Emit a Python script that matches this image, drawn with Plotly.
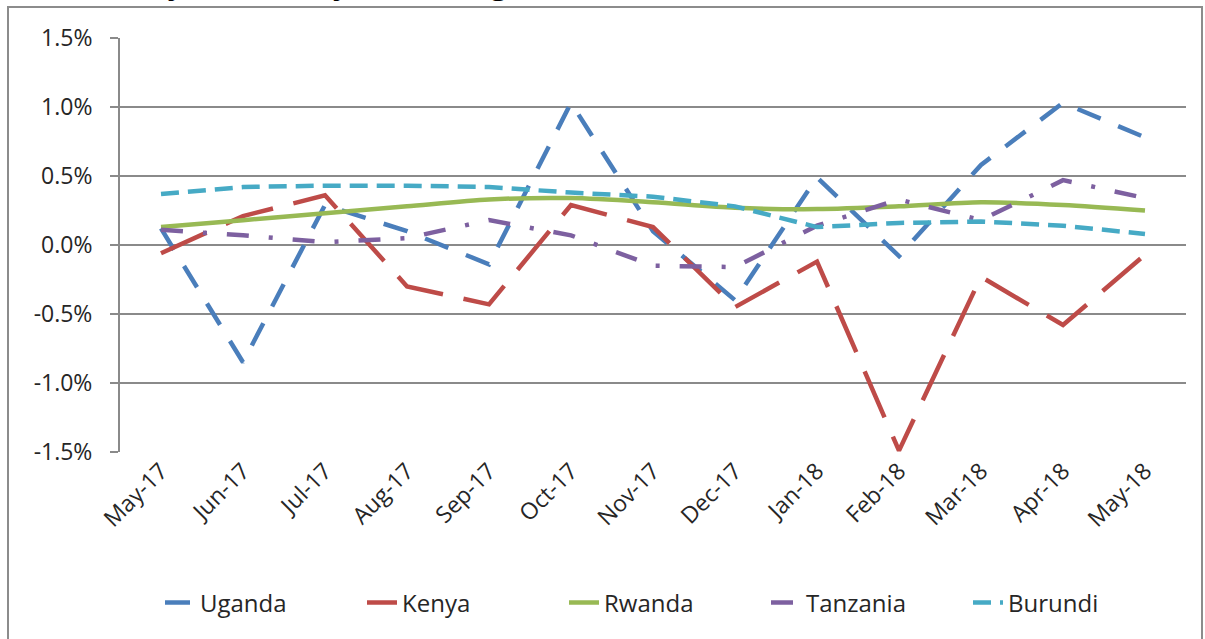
import plotly.graph_objects as go

# ---------------- data ----------------
months = ["May-17", "Jun-17", "Jul-17", "Aug-17", "Sep-17", "Oct-17", "Nov-17",
          "Dec-17", "Jan-18", "Feb-18", "Mar-18", "Apr-18", "May-18"]
uganda = [0.12, -0.85, 0.29, 0.10, -0.14, 1.03, 0.10, -0.40, 0.49, -0.08, 0.58, 1.03, 0.78]
kenya = [-0.06, 0.21, 0.36, -0.30, -0.43, 0.29, 0.13, -0.45, -0.12, -1.49, -0.23, -0.58, -0.07]
rwanda = [0.13, 0.18, 0.23, 0.28, 0.33, 0.34, 0.31, 0.27, 0.26, 0.28, 0.31, 0.29, 0.25]
tanzania = [0.11, 0.07, 0.02, 0.05, 0.18, 0.07, -0.15, -0.16, 0.14, 0.33, 0.18, 0.47, 0.34]
burundi = [0.37, 0.42, 0.43, 0.43, 0.42, 0.38, 0.35, 0.28, 0.13, 0.16, 0.17, 0.14, 0.08]

series_names = ["Uganda", "Kenya", "Rwanda", "Tanzania", "Burundi"]
y_tick_vals = [-1.5, -1.0, -0.5, 0.0, 0.5, 1.0, 1.5]
y_tick_labels = ["-1.5%", "-1.0%", "-0.5%", "0.0%", "0.5%", "1.0%", "1.5%"]
title_text = "(May 2017 - May 2018), Regional"

# ---------------- layout geometry ----------------
W, H = 1205, 639
L, R, T, B = 120, 19, 38, 187
PW, PH = W - L - R, H - T - B


def px_x(px):
    return (px - L) / PW


def px_y(py):
    return (H - B - py) / PH


GRID = "#8a8a8a"
FONT = "Open Sans"
TXT = "#262626"

styles = {
    "Uganda": dict(color="#4A7EBB", dash="25px,19px", shape="linear"),
    "Kenya": dict(color="#BE4B48", dash="50px,21px", shape="linear"),
    "Rwanda": dict(color="#98B954", dash="solid", shape="spline"),
    "Tanzania": dict(color="#7D60A0", dash="22px,20px,4px,20px", shape="linear"),
    "Burundi": dict(color="#46AAC5", dash="18px,9px", shape="linear"),
}
values = {"Uganda": uganda, "Kenya": kenya, "Rwanda": rwanda,
          "Tanzania": tanzania, "Burundi": burundi}

fig = go.Figure()
for name in series_names:
    st = styles[name]
    fig.add_trace(go.Scatter(
        x=months, y=values[name], name=name, mode="lines",
        line=dict(color=st["color"], width=4.5, dash=st["dash"], shape=st["shape"],
                  smoothing=0.8),
    ))

n = len(months)
fig.update_layout(
    width=W, height=H,
    margin=dict(l=L, r=R, t=T, b=B, autoexpand=False),
    paper_bgcolor="white", plot_bgcolor="white",
    font=dict(family=FONT, size=24, color=TXT),
    showlegend=True,
    legend=dict(orientation="h", x=px_x(160), xanchor="left",
                y=px_y(603), yanchor="middle",
                entrywidth=157, entrywidthmode="pixels",
                font=dict(family=FONT, size=24, color=TXT),
                bgcolor="rgba(0,0,0,0)", itemwidth=30),
    xaxis=dict(type="category", categoryorder="array", categoryarray=months,
               range=[-0.5, n - 0.5], tickangle=-45, ticks="", showgrid=False,
               zeroline=False, showline=False, automargin=False,
               tickfont=dict(family=FONT, size=23, color=TXT)),
    xaxis2=dict(overlaying="x", anchor="free", position=0.5, type="linear",
                range=[-0.5, n - 0.5], tickvals=[i + 0.5 for i in range(n - 1)],
                ticks="outside", ticklen=7, tickwidth=2, tickcolor=GRID,
                showticklabels=False, showgrid=False, zeroline=False, showline=False),
    yaxis=dict(range=[-1.5, 1.5], tickvals=y_tick_vals, ticktext=y_tick_labels,
               showgrid=True, gridcolor=GRID, gridwidth=2,
               showline=True, linecolor=GRID, linewidth=2,
               ticks="outside", ticklen=8, tickwidth=2, tickcolor=GRID,
               zeroline=False, ticklabelstandoff=13, automargin=False,
               tickfont=dict(family=FONT, size=23, color=TXT)),
    shapes=[dict(type="rect", xref="paper", yref="paper",
                 x0=px_x(8), x1=px_x(1202), y0=px_y(700), y1=px_y(7),
                 line=dict(color="#8c8c8c", width=2), fillcolor="rgba(0,0,0,0)",
                 layer="below")],
    annotations=[dict(text="<b>" + title_text + "</b>", xref="paper", yref="paper",
                      x=px_x(109), xanchor="left", y=px_y(5), yanchor="bottom",
                      showarrow=False, font=dict(family=FONT, size=30, color="black"))],
)

fig.write_html("out.html", config={"displayModeBar": False},
               post_script="document.body.style.margin='0';document.body.style.padding='0';")
